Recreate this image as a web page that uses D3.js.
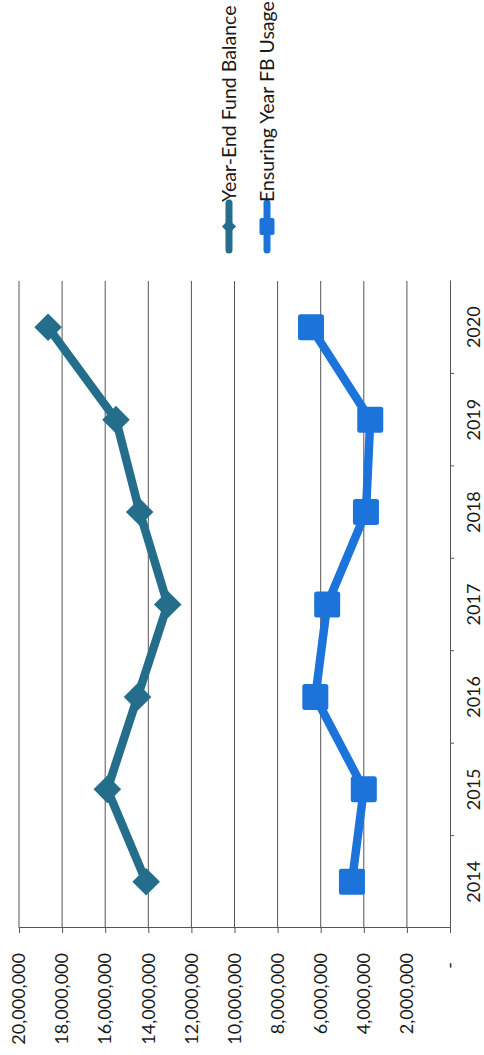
<!DOCTYPE html>
<html>
<head>
<meta charset="utf-8">
<script src="https://cdn.jsdelivr.net/npm/d3@7"></script>
<style>
  html, body { margin: 0; padding: 0; background: #fff; }
  svg { display: block; }
  text { font-family: Lato, "Open Sans", "DejaVu Sans", sans-serif; fill: #1a1a1a; }
</style>
</head>
<body>
<svg id="chart" width="484" height="1055"></svg>
<script>
// Categories and series
const years = ["2014", "2015", "2016", "2017", "2018", "2019", "2020"];
const fundBalance = [14100000, 15900000, 14500000, 13100000, 14400000, 15500000, 18650000];
const fbUsage = [4550000, 4000000, 6250000, 5700000, 3900000, 3700000, 6450000];
const valueTicks = [0, 2000000, 4000000, 6000000, 8000000, 10000000, 12000000, 14000000, 16000000, 18000000, 20000000];
const seriesNames = ["Year-End Fund Balance", "Ensuring Year FB Usage"];
const seriesColors = ["#246e8c", "#1c74da"];

// The chart is laid out in its own frame and then turned a quarter turn
// so that the years run up the page and the values run across it.
const W = 647, H = 431;
const svg = d3.select("#chart");
const g = svg.append("g").attr("transform", "translate(19,928) rotate(-90)");

const x = d3.scaleBand().domain(years).range([0, W]).padding(0);
const y = d3.scaleLinear().domain([0, 20000000]).range([H, 0]);
const cx = d => x(d) + x.bandwidth() / 2;

// Gridlines
g.append("g")
  .selectAll("line")
  .data(valueTicks.filter(d => d > 0))
  .join("line")
  .attr("x1", 0).attr("x2", W)
  .attr("y1", d => y(d)).attr("y2", d => y(d))
  .attr("stroke", "#555")
  .attr("stroke-width", 1);

// Value axis
const fmt = d3.format(",");
const yAxis = g.append("g")
  .call(d3.axisLeft(y).tickValues(valueTicks).tickSize(5).tickPadding(20)
    .tickFormat(d => d === 0 ? "-" : fmt(d)));
yAxis.selectAll("text").style("font-size", "18px").attr("fill", "#1a1a1a");
yAxis.selectAll("text").filter(d => d === 0).attr("x", -34);
yAxis.selectAll("line, path").attr("stroke", "#555");

// Category axis
const xAxis = g.append("g")
  .attr("transform", `translate(0,${H})`)
  .call(d3.axisBottom(x).tickSize(0).tickPadding(17));
xAxis.selectAll("text").style("font-size", "18px").attr("fill", "#1a1a1a");
xAxis.select("path").attr("stroke", "#555");
// tick marks between the categories
xAxis.append("g")
  .selectAll("line")
  .data(years.slice(1))
  .join("line")
  .attr("x1", d => x(d)).attr("x2", d => x(d))
  .attr("y1", 0).attr("y2", 4)
  .attr("stroke", "#555");

// Series lines and markers
const line = d3.line().x((d, i) => cx(years[i])).y(d => y(d));

g.append("path")
  .datum(fundBalance)
  .attr("d", line)
  .attr("fill", "none")
  .attr("stroke", seriesColors[0])
  .attr("stroke-width", 8.5)
  .attr("stroke-linejoin", "round");

g.append("path")
  .datum(fbUsage)
  .attr("d", line)
  .attr("fill", "none")
  .attr("stroke", seriesColors[1])
  .attr("stroke-width", 8.5)
  .attr("stroke-linejoin", "round");

const diamond = d3.symbol().type(d3.symbolSquare).size(380);
g.append("g")
  .selectAll("path")
  .data(fundBalance)
  .join("path")
  .attr("d", diamond)
  .attr("transform", (d, i) => `translate(${cx(years[i])},${y(d)}) rotate(45)`)
  .attr("fill", seriesColors[0]);

const sq = 26;
g.append("g")
  .selectAll("rect")
  .data(fbUsage)
  .join("rect")
  .attr("x", (d, i) => cx(years[i]) - sq / 2)
  .attr("y", d => y(d) - sq / 2)
  .attr("width", sq).attr("height", sq)
  .attr("rx", 2.5)
  .attr("fill", seriesColors[1]);

// Legend
const legend = g.append("g").attr("transform", `translate(${W + 31},0)`);
const entries = legend.selectAll("g")
  .data(seriesNames)
  .join("g")
  .attr("transform", (d, i) => `translate(0,${210 + i * 38})`);

entries.append("line")
  .attr("x1", 0).attr("x2", 47)
  .attr("y1", 0).attr("y2", 0)
  .attr("stroke", (d, i) => seriesColors[i])
  .attr("stroke-width", 7)
  .attr("stroke-linecap", "round");

entries.filter((d, i) => i === 0).append("path")
  .attr("d", d3.symbol().type(d3.symbolSquare).size(100))
  .attr("transform", "translate(23.5,0) rotate(45)")
  .attr("fill", seriesColors[0]);

entries.filter((d, i) => i === 1).append("rect")
  .attr("x", 15).attr("y", -7.5)
  .attr("width", 17).attr("height", 15)
  .attr("rx", 2)
  .attr("fill", seriesColors[1]);

entries.append("text")
  .attr("x", 48)
  .attr("y", 0)
  .attr("dy", "0.35em")
  .style("font-size", "19.5px")
  .attr("fill", "#1a1a1a")
  .text(d => d);
</script>
</body>
</html>
